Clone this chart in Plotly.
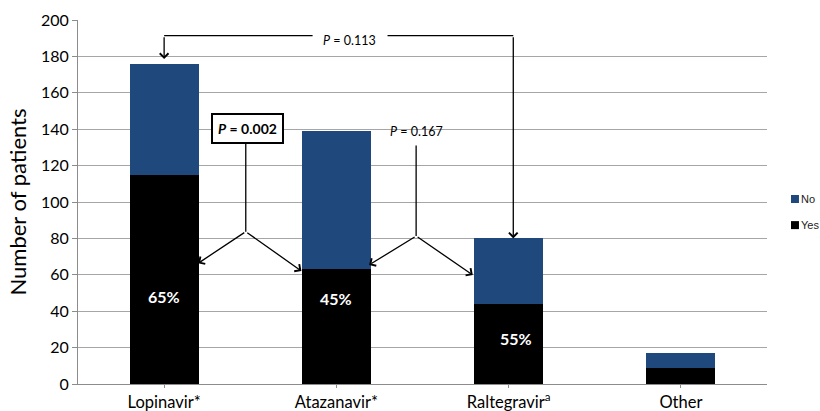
import plotly.graph_objects as go

categories = ["Lopinavir*", "Atazanavir*", "Raltegravir<sup>a</sup>", "Other"]
series_names = ["Yes", "No"]
yes_counts = [115, 63, 44, 9]
no_counts = [61, 76, 36, 8]
pct_labels = ["65%", "45%", "55%"]
pct_y = [48, 47, 25]
pct_x = [0, 1, 2.04]
y_ticks = [0, 20, 40, 60, 80, 100, 120, 140, 160, 180, 200]

BLUE = "#1F497D"
FONT = "Lato"
colors = {"Yes": "#000000", "No": BLUE}

fig = go.Figure()
fig.add_trace(go.Bar(x=list(range(4)), y=yes_counts, name=series_names[0], marker_color=colors["Yes"],
                     marker_line_width=0, width=0.4, showlegend=False))
fig.add_trace(go.Bar(x=list(range(4)), y=no_counts, name=series_names[1], marker_color=colors["No"],
                     marker_line_width=0, width=0.4, showlegend=False))

# percentage labels
for x, y, t in zip(pct_x, pct_y, pct_labels):
    fig.add_annotation(x=x, y=y, text=f"<b>{t}</b>", showarrow=False,
                       font=dict(color="white", size=16, family=FONT))

line = dict(color="black", width=1.3)

def arrow(tx, ty, sx, sy):
    fig.add_annotation(x=tx, y=ty, ax=sx, ay=sy, axref="x", ayref="y", xref="x", yref="y",
                       text="", showarrow=True, arrowhead=4, arrowsize=1.3, arrowwidth=1.3,
                       arrowcolor="black", standoff=0, startstandoff=0)

# P = 0.002 comparison (Lopinavir vs Atazanavir)
fig.add_shape(type="line", x0=0.474, y0=133, x1=0.474, y1=83.7, line=line)
arrow(0.197, 66.3, 0.474, 83.7)
arrow(0.797, 62.1, 0.474, 83.7)
fig.add_annotation(x=0.486, y=140.6, text="<b><i>P</i> = 0.002</b>", showarrow=False,
                   font=dict(color="black", size=14, family=FONT),
                   bordercolor="black", borderwidth=2, borderpad=5, bgcolor="white")

# P = 0.167 comparison (Atazanavir vs Raltegravir)
fig.add_shape(type="line", x0=1.463, y0=131, x1=1.463, y1=81.3, line=line)
arrow(1.19, 65.4, 1.463, 81.3)
arrow(1.792, 59.9, 1.463, 81.3)
fig.add_annotation(x=1.468, y=138.5, text="<i>P</i> = 0.167", showarrow=False,
                   font=dict(color="black", size=12.5, family=FONT))

# P = 0.113 comparison (Lopinavir vs Raltegravir)
fig.add_shape(type="line", x0=0.0, y0=191.4, x1=0.862, y1=191.4, line=line)
fig.add_shape(type="line", x0=1.297, y0=191.4, x1=2.027, y1=191.4, line=line)
arrow(0.0, 178.6, 0.0, 191.4)
arrow(2.027, 80, 2.027, 191.4)
fig.add_annotation(x=1.077, y=189, text="<i>P</i> = 0.113", showarrow=False,
                   font=dict(color="black", size=12.5, family=FONT))

# legend drawn as small squares + labels to the right of the plot
legend_rows = [("No", 0.5082), ("Yes", 0.4365)]
for name, yc in legend_rows:
    fig.add_shape(type="rect", xref="paper", yref="paper",
                  x0=1.0348, x1=1.0464, y0=yc - 0.011, y1=yc + 0.011,
                  fillcolor=colors[name], line_width=0)
    fig.add_annotation(xref="paper", yref="paper", x=1.0485, y=yc, xanchor="left",
                       text=name, showarrow=False, borderpad=0,
                       font=dict(family="Liberation Sans", size=11, color="#222222"))

fig.update_layout(
    width=820, height=411,
    margin=dict(l=78, r=53, t=20, b=27, autoexpand=False),
    barmode="stack",
    plot_bgcolor="white", paper_bgcolor="white",
    font=dict(family=FONT, color="black"),
    showlegend=False,
    xaxis=dict(range=[-0.5, 3.5], tickmode="array", tickvals=list(range(4)), ticktext=categories,
               showgrid=False, showline=True, linecolor="#8c8c8c", linewidth=1,
               ticks="outside", tickson="boundaries", ticklen=3, tickcolor="#8c8c8c",
               tickfont=dict(size=16.5, family=FONT), zeroline=False, automargin=False),
    yaxis=dict(range=[0, 200], tickvals=y_ticks, showgrid=True, gridcolor="#a6a6a6", gridwidth=1,
               showline=True, linecolor="#8c8c8c", linewidth=1, ticks="outside", ticklen=5,
               tickcolor="#8c8c8c", tickfont=dict(size=16, family=FONT), zeroline=False,
               automargin=False,
               title=dict(text="Number of patients", font=dict(size=22, family=FONT), standoff=8)),
)

fig.write_html("out.html", config={"displayModeBar": False},
               post_script="document.body.style.margin='0';document.body.style.overflow='hidden';")
